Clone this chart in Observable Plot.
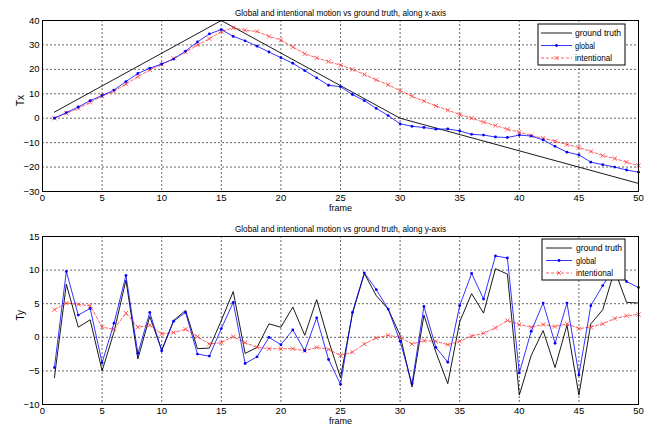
<!DOCTYPE html>
<html>
<head>
<meta charset="utf-8">
<script src="https://cdn.jsdelivr.net/npm/d3@7"></script>
<script src="https://cdn.jsdelivr.net/npm/@observablehq/plot@0.6"></script>
<style>
  html, body { margin: 0; padding: 0; background: #fff; }
  #wrap { position: relative; width: 654px; height: 429px; font-family: "Liberation Sans", Arial, sans-serif; }
  #wrap svg { position: absolute; left: 0; }
</style>
</head>
<body>
<div id="wrap"></div>
<script>
// ---- data ----
const frames = [1,2,3,4,5,6,7,8,9,10,11,12,13,14,15,16,17,18,19,20,21,22,23,24,25,26,27,28,29,30,31,32,33,34,35,36,37,38,39,40,41,42,43,44,45,46,47,48,49,50];

// Tx (x-axis)
const gtTxFrames = [1, 15, 30, 50];
const gtTx = [2.5, 40, 0, -26.7];
const globalTx = [0,2.3,4.6,7.2,9.3,11.5,15,18.3,20.5,22.2,24.2,27.5,31.2,34.5,36.3,33.5,31.7,29.5,27.1,24.8,22.5,19.5,16.5,13.5,12.9,9.7,7.2,4.0,1.1,-2.3,-3.3,-3.8,-4.5,-4.4,-5.2,-6.6,-6.9,-7.7,-7.9,-6.9,-7.3,-8.9,-11.5,-13.9,-15,-18,-19,-20,-21.2,-22.1];
const intentTx = [0,2,4,6.5,9,11,14,17,19.8,22,24.5,27,30,32.5,35.5,37,36,35.5,33.5,32,29.2,26.4,24.7,23.2,21.7,20,17.9,15.7,13.7,11.3,9,7,5,3.3,1.5,0,-1.6,-3,-4.5,-5.7,-7.1,-8.2,-9.4,-10.8,-12,-13.6,-15.3,-16.5,-18,-19.4];

// Ty (y-axis)
const gtTy = [-6,7.9,1.5,2.6,-5,0.8,8.5,-3.2,3.1,-1.9,2.5,4.0,-1.7,-1.6,2.5,6.8,-2.4,-1.5,2.0,1.5,4.5,0.3,5.6,-0.5,-6,3.5,9.5,6.2,4.2,0.3,-7.4,3.3,-2.2,-6.9,2.3,6.5,3.6,10.2,9.4,-8.6,-2.7,1.0,-4.5,1.8,-8.6,2.0,4.1,10,5.2,5.1];
const globalTy = [-4.5,9.8,3.3,4.3,-3.8,2.1,9.2,-2.4,3.7,-2.0,2.4,3.7,-2.5,-2.8,1.3,5.2,-3.9,-2.9,0.0,-1.1,1.1,-2.0,2.9,-3.3,-7.0,3.7,9.6,7.1,4.2,-0.6,-6.9,4.6,-1.5,-3.7,4.7,9.5,5.7,12.1,11.8,-5.3,0.9,5.1,-0.9,5.1,-5.6,4.7,7.7,10.5,8.3,7.4];
const intentTy = [4.1,5.1,4.9,4.7,1.5,1.2,3.6,1.5,1.8,0.5,0.7,1.2,0.1,-1.0,-0.8,0.1,-0.8,-1.5,-1.7,-1.7,-1.7,-2.0,-1.5,-1.8,-2.7,-2.2,-1.0,-0.1,0.3,0.0,-1.0,-0.5,-0.6,-1.1,-0.6,0.2,0.6,1.4,2.5,1.9,1.5,1.9,1.6,2.0,1.3,1.5,2.0,2.8,3.2,3.4];

const xTicks = [0,5,10,15,20,25,30,35,40,45,50];
const yTicksTop = [-30,-20,-10,0,10,20,30,40];
const yTicksBottom = [-10,-5,0,5,10,15];

const titles = ["Global and intentional motion vs ground truth, along x-axis",
                "Global and intentional motion vs ground truth, along y-axis"];
const yLabels = ["Tx", "Ty"];
const xLabel = "frame";
const seriesNames = ["ground truth", "global", "intentional"];

const BLUE = "#0000ff", RED = "#ff3838", BLACK = "#000";
const FONT = "'Liberation Sans', Arial, sans-serif";

function panel(opts) {
  const {gtX, gtY, glob, intent, yDomain, yTicks, title, ylab, height, mt, mb} = opts;
  const gt = gtX.map((f, i) => ({f, v: gtY[i]}));
  const g = frames.map((f, i) => ({f, v: glob[i]}));
  const it = frames.map((f, i) => ({f, v: intent[i]}));
  const grid = {stroke: "#000", strokeOpacity: 0.75, strokeDasharray: "2,2", strokeWidth: 0.8};
  return Plot.plot({
    width: 654, height,
    marginLeft: 42, marginRight: 16, marginTop: mt, marginBottom: mb,
    style: {fontFamily: FONT, fontSize: "9.5px", background: "white", color: "#000"},
    x: {domain: [0, 50], ticks: xTicks, tickSize: 0, tickPadding: 3, label: null},
    y: {domain: yDomain, ticks: yTicks, tickSize: 0, tickPadding: 3, label: null},
    marks: [
      Plot.ruleX(xTicks, grid),
      Plot.ruleY(yTicks, grid),
      Plot.line(gt, {x: "f", y: "v", stroke: BLACK, strokeWidth: 0.9}),
      Plot.line(it, {x: "f", y: "v", stroke: RED, strokeWidth: 0.8, strokeDasharray: "3,2"}),
      Plot.dot(it, {x: "f", y: "v", symbol: "times", r: 2.1, stroke: RED, strokeWidth: 0.8}),
      Plot.line(g, {x: "f", y: "v", stroke: BLUE, strokeWidth: 0.8}),
      Plot.dot(g, {x: "f", y: "v", r: 1.4, fill: BLUE, stroke: "none"}),
      Plot.frame({stroke: "#000", strokeWidth: 1}),
      Plot.text([title], {frameAnchor: "top", dy: -10, fontSize: 8.2, fill: "#000"}),
      Plot.text([xLabel], {frameAnchor: "bottom", dy: 19.5, fontSize: 9, fill: "#000"}),
      Plot.text([ylab], {frameAnchor: "left", dx: -22, rotate: -90, fontSize: 10, fill: "#000"})
    ]
  });
}

const wrap = document.getElementById("wrap");

const topPanel = panel({gtX: gtTxFrames, gtY: gtTx, glob: globalTx, intent: intentTx,
  yDomain: [-30, 40], yTicks: yTicksTop, title: titles[0], ylab: yLabels[0],
  height: 215, mt: 20, mb: 24});
topPanel.style.top = "0px";
wrap.appendChild(topPanel);

const botPanel = panel({gtX: frames, gtY: gtTy, glob: globalTy, intent: intentTy,
  yDomain: [-10, 15], yTicks: yTicksBottom, title: titles[1], ylab: yLabels[1],
  height: 214, mt: 21, mb: 25});
botPanel.style.top = "215px";
wrap.appendChild(botPanel);

const legendTextLengths = [46, 20, 37];
function legend(svg, x0, x1, y0, y1, lx0, lx1, tx) {
  const s = d3.select(svg);
  const gl = s.append("g").attr("font-family", FONT).attr("font-size", 9.5).attr("text-anchor", "start");
  gl.append("rect").attr("x", x0).attr("y", y0).attr("width", x1 - x0).attr("height", y1 - y0)
    .attr("fill", "white").attr("stroke", "#000").attr("stroke-width", 1);
  const rows = [y0 + 9, y0 + 21.5, y0 + 34];
  const mx = (lx0 + lx1) / 2;
  gl.append("line").attr("x1", lx0).attr("x2", lx1).attr("y1", rows[0]).attr("y2", rows[0]).attr("stroke", BLACK).attr("stroke-width", 0.9);
  gl.append("line").attr("x1", lx0).attr("x2", lx1).attr("y1", rows[1]).attr("y2", rows[1]).attr("stroke", BLUE).attr("stroke-width", 0.8);
  gl.append("circle").attr("cx", mx).attr("cy", rows[1]).attr("r", 1.4).attr("fill", BLUE);
  gl.append("line").attr("x1", lx0).attr("x2", lx1).attr("y1", rows[2]).attr("y2", rows[2]).attr("stroke", RED).attr("stroke-width", 0.8).attr("stroke-dasharray", "3,2");
  gl.append("path").attr("d", `M${mx-2},${rows[2]-2}L${mx+2},${rows[2]+2}M${mx-2},${rows[2]+2}L${mx+2},${rows[2]-2}`).attr("stroke", RED).attr("stroke-width", 0.8).attr("fill", "none");
  seriesNames.forEach((n, i) => {
    gl.append("text").attr("x", tx).attr("y", rows[i]).attr("dy", "0.35em").attr("fill", "#000")
      .attr("text-anchor", "start").attr("textLength", legendTextLengths[i]).attr("lengthAdjust", "spacingAndGlyphs").text(n);
  });
}
legend(topPanel, 538, 625, 24, 65, 541, 572, 575);
legend(botPanel, 542, 625, 24, 65, 546, 572, 576);
</script>
</body>
</html>
